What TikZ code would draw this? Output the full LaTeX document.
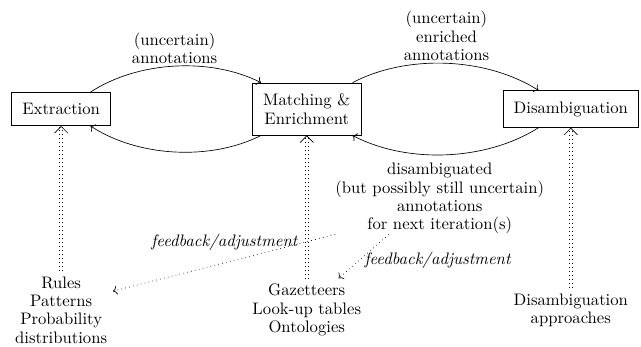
\documentclass[tikz,border=0pt]{standalone}
\usetikzlibrary{positioning,arrows.meta}
\tikzset{
	stage/.style={draw, inner sep=6.5pt, align=center},
	source/.style={align=center},
	flow/.style={->, bend left=30, looseness=0.85},
	input/.style={-{Straight Barb[line width=0.4pt, length=4pt, width=8pt]}, double, double distance=1.4pt, dotted},
	feedback/.style={->, dotted},
}
\begin{document}
\begin{tikzpicture}[font=\fontsize{10}{11}\selectfont]
	\useasboundingbox (0,0) rectangle (13.52,7.30);
	% pipeline stages
	\node[stage] (extr) at (1.29,5) {Extraction};
	\node[stage] (match) at (6.47,5) {Matching \&\\Enrichment};
	\node[stage] (disamb) at (12.04,5) {Disambiguation};
	% knowledge used by each stage
	\node[source] (rules) at (1.29,0.76) {Rules\\Patterns\\Probability\\distributions};
	\node[source] (gaz) at (6.47,0.76) {Gazetteers\\Look-up tables\\Ontologies};
	\node[source] (appr) at (12.04,0.76) {Disambiguation\\approaches};
	\draw (extr) edge[flow] node[above=-2pt, align=center] {(uncertain)\\annotations} (match);
	\draw (match) edge[flow] node[above=-2pt, align=center] {(uncertain)\\enriched\\annotations} (disamb);
	\draw (disamb) edge[flow] node[below=5pt, xshift=-4pt, inner sep=0pt, align=center] (back) {disambiguated\\(but possibly still uncertain)\\annotations\\for next iteration(s)} (match);
	\draw (match) edge[flow] (extr);
	\draw[input] (rules) -- (extr);
	\draw[input] (gaz) -- (match);
	\draw[input] (appr) -- (disamb);
	% feedback loops
	\draw[feedback] (back.south west) -- node[pos=0.14, left] {\textit{feedback/adjustment}} (rules.20);
	\draw[feedback] (back.215) -- node[pos=0.6, right] {\textit{feedback/adjustment}} (gaz.45);
\end{tikzpicture}
\end{document}
